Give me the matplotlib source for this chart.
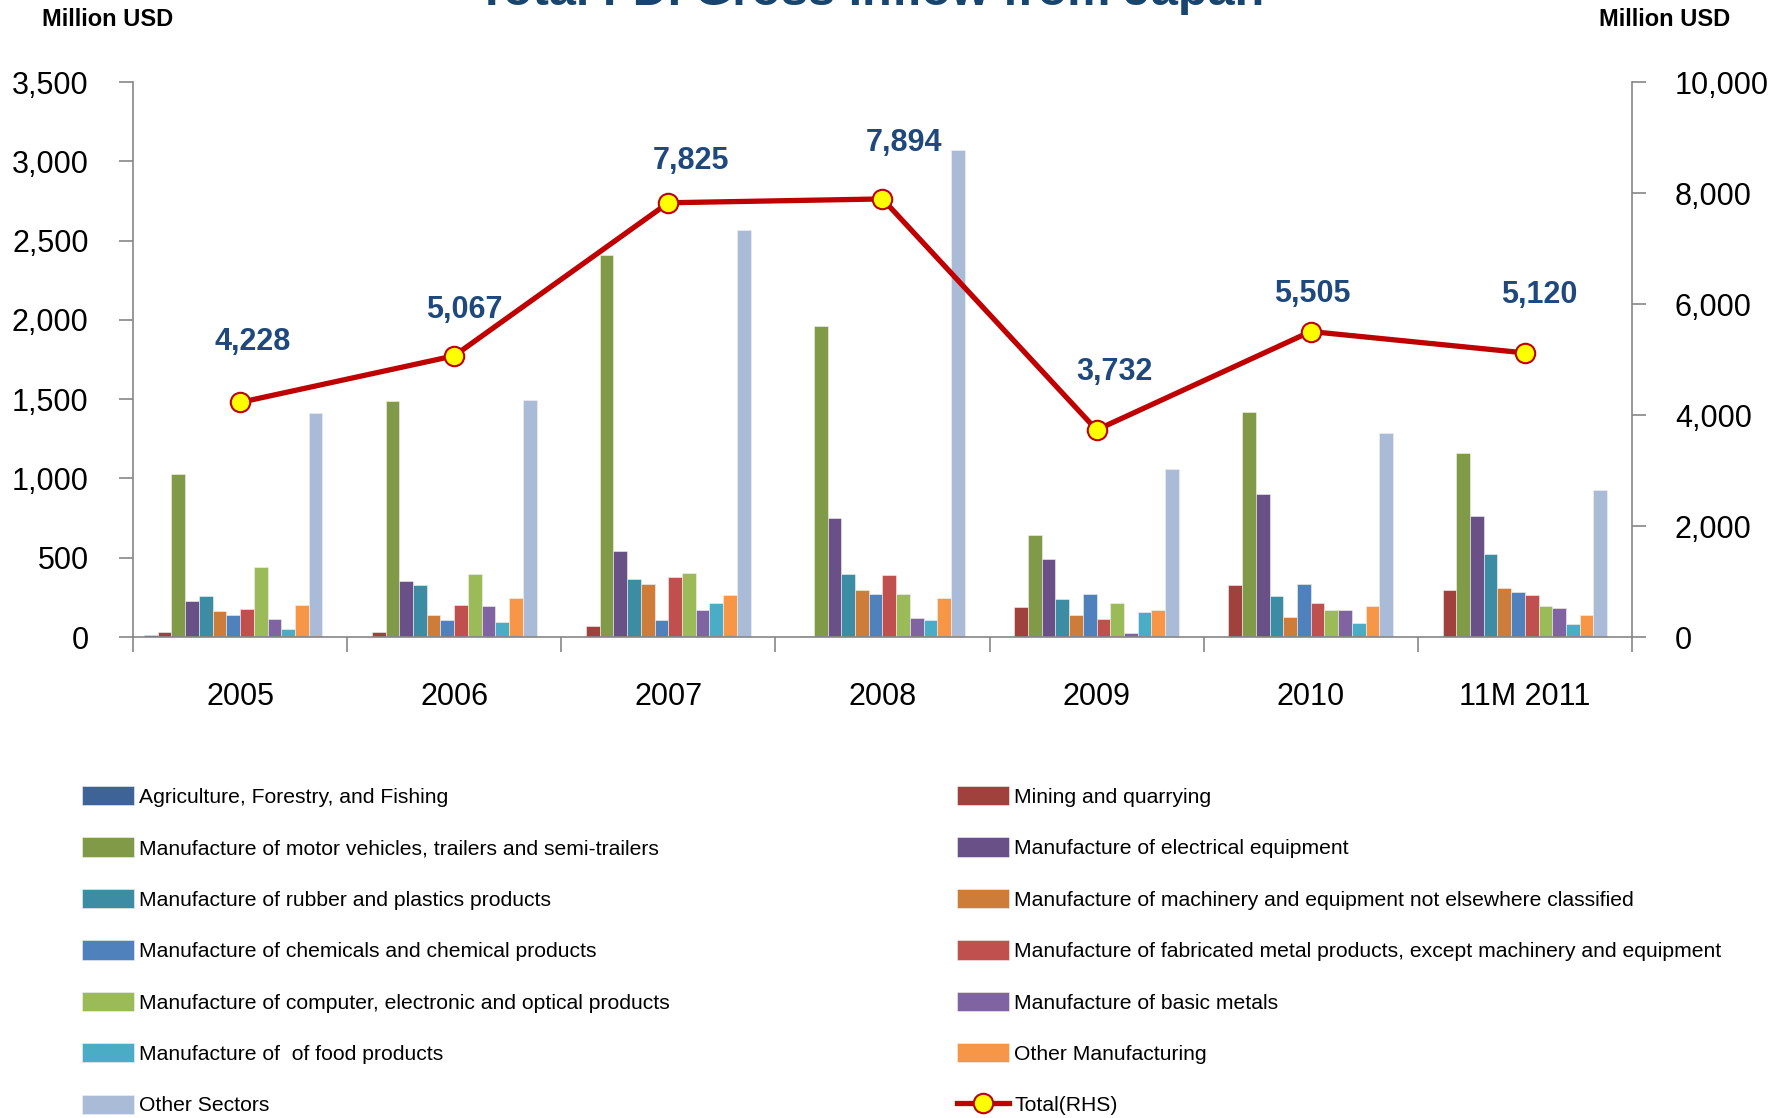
import matplotlib
matplotlib.use("Agg")
import matplotlib.pyplot as plt
import numpy as np

plt.rcParams["font.family"] = ["Liberation Sans", "DejaVu Sans"]

years = ['2005', '2006', '2007', '2008', '2009', '2010', '11M 2011']

sectors = [
    'Agriculture, Forestry, and Fishing',
    'Mining and quarrying',
    'Manufacture of motor vehicles, trailers and semi-trailers',
    'Manufacture of electrical equipment',
    'Manufacture of rubber and plastics products',
    'Manufacture of machinery and equipment not elsewhere classified',
    'Manufacture of chemicals and chemical products',
    'Manufacture of fabricated metal products, except machinery and equipment',
    'Manufacture of computer, electronic and optical products',
    'Manufacture of basic metals',
    'Manufacture of  of food products',
    'Other Manufacturing',
    'Other Sectors',
]

agri = [12, 0, 0, 0, 0, 0, 0]
mining = [30, 30, 71, 8, 189, 326, 294]
motor = [1026, 1490, 2411, 1961, 641, 1421, 1160]
electrical = [225, 351, 540, 753, 494, 900, 761]
rubber = [257, 328, 368, 395, 242, 261, 521]
machinery = [162, 137, 337, 294, 141, 129, 307]
chemicals = [137, 107, 105, 269, 274, 332, 282]
fabricated = [175, 204, 381, 393, 112, 214, 263]
computer = [441, 397, 404, 269, 214, 168, 194]
basic_metals = [116, 193, 168, 122, 28, 168, 181]
food = [48, 95, 214, 105, 158, 88, 84]
other_manuf = [202, 248, 263, 246, 168, 194, 141]
other_sectors = [1414, 1497, 2566, 3074, 1062, 1289, 925]

total = [4228, 5067, 7825, 7894, 3732, 5505, 5120]

series = [agri, mining, motor, electrical, rubber, machinery, chemicals,
          fabricated, computer, basic_metals, food, other_manuf, other_sectors]
colors = ['#3E6497', '#A0413E', '#809A47', '#695187', '#3C8CA3', '#CD7C39',
          '#4F81BD', '#C0504D', '#9BBB59', '#8064A2', '#4BACC6', '#F79646',
          '#AABBD8']

# label offsets (pixels) from the markers, as placed in the original
label_dx = [13, 10, 23, 22, 18, 2, 14]
label_dy = [60, 46, 42, 56, 58, 38, 58]

axis_grey = '#868686'
navy = '#1F497D'

fig = plt.figure(figsize=(17.9, 11.18), dpi=100)
ax = fig.add_axes([0.0743, 0.4302, 0.8374, 0.4964])

x = np.arange(len(years))
n = len(series) + 1
w = 0.897 / n
handles = []
for i, (vals, c, lab) in enumerate(zip(series, colors, sectors)):
    b = ax.bar(x + (i - (n - 1) / 2) * w, vals, width=w, color=c,
               edgecolor='#F2F2F2', linewidth=0.4, label=lab, zorder=2)
    handles.append(b)

ax.set_xlim(-0.5, len(years) - 0.5)
ax.set_ylim(0, 3500)
ax.set_yticks(np.arange(0, 3501, 500))
ax.set_yticklabels([f'{v:,}' for v in range(0, 3501, 500)])
ax.set_xticks(np.arange(-0.5, len(years), 1.0))
ax.set_xticklabels([])
ax.set_xticks(x, minor=True)
ax.set_xticklabels(years, minor=True)
ax.tick_params(axis='x', which='major', length=11, width=1.2, color=axis_grey, direction='out')
ax.tick_params(axis='x', which='minor', length=0, pad=32.5, labelsize=22)
ax.tick_params(axis='y', length=10, width=1.2, color=axis_grey, pad=22, labelsize=22)
for s in ['top', 'right']:
    ax.spines[s].set_visible(False)
for s in ['left', 'bottom']:
    ax.spines[s].set_color(axis_grey)
    ax.spines[s].set_linewidth(1.2)

ax2 = ax.twinx()
ax2.set_ylim(0, 10000)
ax2.set_yticks(np.arange(0, 10001, 2000))
ax2.set_yticklabels([f'{v:,}' for v in range(0, 10001, 2000)])
ax2.tick_params(axis='y', length=10, width=1.2, color=axis_grey, pad=21, labelsize=22)
for s in ['top', 'left', 'bottom']:
    ax2.spines[s].set_visible(False)
ax2.spines['right'].set_color(axis_grey)
ax2.spines['right'].set_linewidth(1.2)

ln, = ax2.plot(x, total, color='#C00000', lw=3.8, marker='o', markersize=14,
               markerfacecolor='#FFFF00', markeredgecolor='#C00000',
               markeredgewidth=1.5, label='Total(RHS)', zorder=5)
handles.append(ln)

for xi, v, dx, dy in zip(x, total, label_dx, label_dy):
    ax2.annotate(f'{v:,}', (xi, v), xytext=(dx, dy), textcoords='offset pixels',
                 ha='center', va='center', fontsize=22, fontweight='bold', color=navy)

# title sits partly above the canvas, as in the original export
fig.text(0.4863, 1 - 5 / 1118, 'Total FDI Gross Inflow from Japan', ha='center',
         va='baseline', fontsize=35, fontweight='bold', color='#17456E')
fig.text(42 / 1790, 1 - 19.5 / 1118, 'Million USD', ha='left', va='center',
         fontsize=17, fontweight='bold')
fig.text(1665 / 1790, 1 - 19.5 / 1118, 'Million USD', ha='center', va='center',
         fontsize=17, fontweight='bold')

order = handles[0::2] + handles[1::2]
labels = [h.get_label() for h in order]
fig.legend(order, labels, loc='upper left', bbox_to_anchor=(82 / 1790, 1 - 786 / 1118),
           ncol=2, frameon=False, fontsize=15.25, handlelength=2.44, handleheight=1.03,
           handletextpad=0.25, labelspacing=1.44, columnspacing=13.58,
           borderpad=0, borderaxespad=0)

fig.savefig('out.png', dpi=100)
